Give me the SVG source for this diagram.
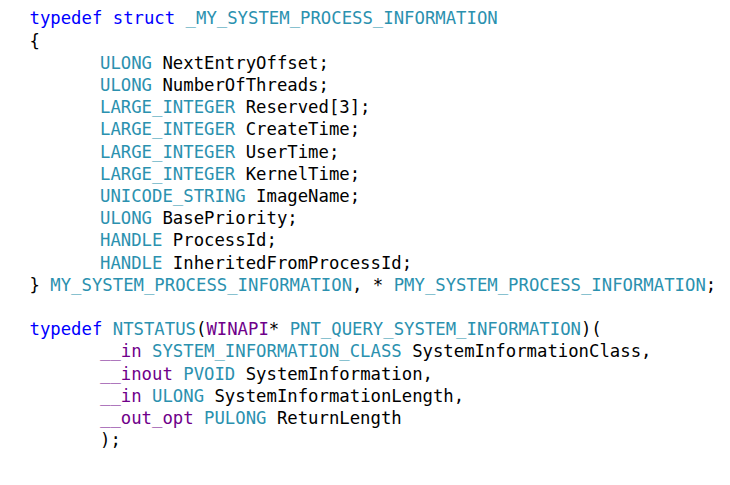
<svg xmlns="http://www.w3.org/2000/svg" width="730" height="485" viewBox="0 0 730 485">
<style>
text{font-family:"DejaVu Sans Mono","Liberation Mono",monospace;font-size:17.3px;fill:#000;white-space:pre}
.k{fill:#0000FF}.t{fill:#2B91AF}.m{fill:#6F008A}
</style>
<rect width="730" height="485" fill="#fff"/>
<g id="code" xml:space="preserve">
<text x="29.5" y="24.3"><tspan class="k">typedef</tspan> <tspan class="k">struct</tspan> <tspan class="t">_MY_SYSTEM_PROCESS_INFORMATION</tspan></text>
<text x="29.5" y="46.5">{</text>
<text x="100" y="68.7"><tspan class="t">ULONG</tspan> NextEntryOffset;</text>
<text x="100" y="90.9"><tspan class="t">ULONG</tspan> NumberOfThreads;</text>
<text x="100" y="113.1"><tspan class="t">LARGE_INTEGER</tspan> Reserved[3];</text>
<text x="100" y="135.3"><tspan class="t">LARGE_INTEGER</tspan> CreateTime;</text>
<text x="100" y="157.5"><tspan class="t">LARGE_INTEGER</tspan> UserTime;</text>
<text x="100" y="179.7"><tspan class="t">LARGE_INTEGER</tspan> KernelTime;</text>
<text x="100" y="201.9"><tspan class="t">UNICODE_STRING</tspan> ImageName;</text>
<text x="100" y="224.1"><tspan class="t">ULONG</tspan> BasePriority;</text>
<text x="100" y="246.3"><tspan class="t">HANDLE</tspan> ProcessId;</text>
<text x="100" y="268.5"><tspan class="t">HANDLE</tspan> InheritedFromProcessId;</text>
<text x="29.5" y="290.7">} <tspan class="t">MY_SYSTEM_PROCESS_INFORMATION</tspan>, * <tspan class="t">PMY_SYSTEM_PROCESS_INFORMATION</tspan>;</text>
<text x="29.5" y="335.1"><tspan class="k">typedef</tspan> <tspan class="t">NTSTATUS</tspan>(<tspan class="m">WINAPI</tspan>* <tspan class="t">PNT_QUERY_SYSTEM_INFORMATION</tspan>)(</text>
<text x="100" y="357.3"><tspan class="m">__in</tspan> <tspan class="t">SYSTEM_INFORMATION_CLASS</tspan> SystemInformationClass,</text>
<text x="100" y="379.5"><tspan class="m">__inout</tspan> <tspan class="t">PVOID</tspan> SystemInformation,</text>
<text x="100" y="401.7"><tspan class="m">__in</tspan> <tspan class="t">ULONG</tspan> SystemInformationLength,</text>
<text x="100" y="423.9"><tspan class="m">__out_opt</tspan> <tspan class="t">PULONG</tspan> ReturnLength</text>
<text x="100" y="446.1">);</text>
</g>
</svg>
